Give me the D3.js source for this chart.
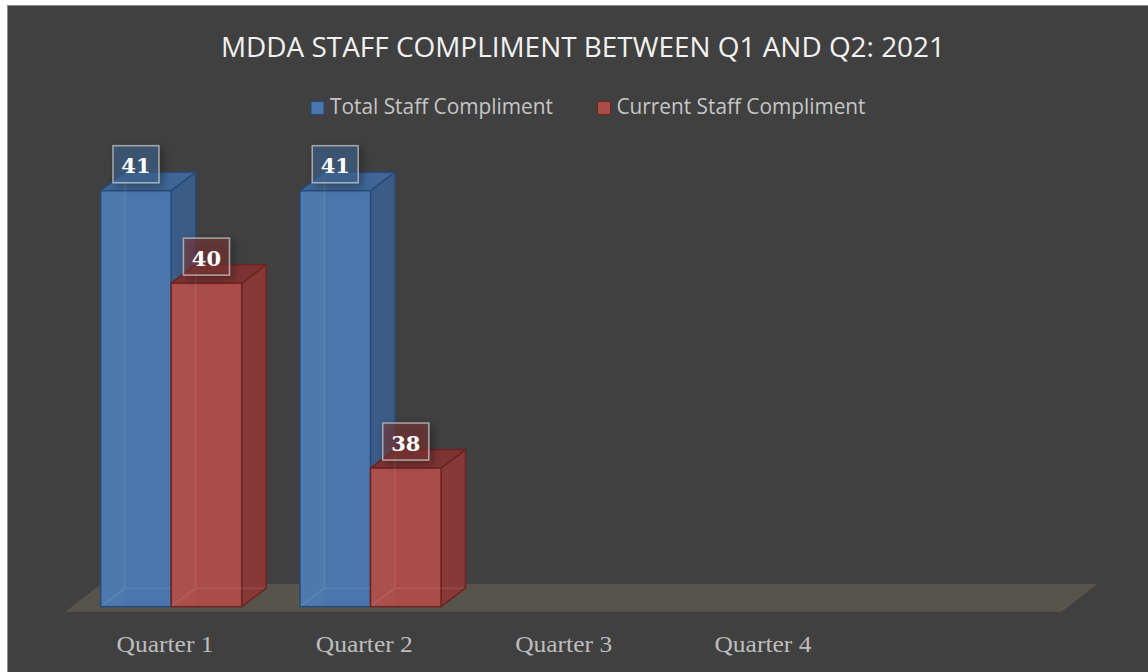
<!DOCTYPE html>
<html>
<head>
<meta charset="utf-8">
<script src="https://cdn.jsdelivr.net/npm/d3@7"></script>
<style>
  html, body { margin: 0; padding: 0; background: #fff; }
  svg { display: block; }
</style>
</head>
<body>
<svg id="chart"></svg>
<script>
const categories = ["Quarter 1", "Quarter 2", "Quarter 3", "Quarter 4"];
const seriesNames = ["Total Staff Compliment", "Current Staff Compliment"];
const totalStaff = [41, 41, null, null];
const currentStaff = [40, 38, null, null];
const titleText = "MDDA STAFF COMPLIMENT BETWEEN Q1 AND Q2: 2021";

function makeChart() {
	let w = 1148;
	let h = 672;

	let svg = d3.select('#chart')
		.attr('width', w)
		.attr('height', h);

	let defs = svg.append('defs');
	let shadow = defs.append('filter').attr('id', 'shadow')
		.attr('x', '-50%').attr('y', '-50%').attr('width', '200%').attr('height', '200%');
	shadow.append('feDropShadow')
		.attr('dx', 3).attr('dy', 3).attr('stdDeviation', 4)
		.attr('flood-color', '#000').attr('flood-opacity', 0.55);

	// chart area
	svg.append('rect')
		.attr('x', 7.5).attr('y', 5.5)
		.attr('width', w + 20).attr('height', h + 20)
		.attr('fill', '#404040')
		.attr('stroke', '#8e8e8e');

	var colors = [
		{ front: '#4a76ad', side: '#3b5c87', top: '#3f6696', stroke: '#284a76' },
		{ front: '#ab4c48', side: '#873937', top: '#7c3433', stroke: '#6a2422' }
	];

	// title
	svg.append('text')
		.attr('x', 583).attr('y', 56.7)
		.attr('text-anchor', 'middle')
		.attr('textLength', 724).attr('lengthAdjust', 'spacingAndGlyphs')
		.style('font-family', '"Open Sans", sans-serif')
		.style('font-size', '28px')
		.attr('fill', '#f2f2f2')
		.text(titleText);

	// legend
	let legendX = [311, 597.5];
	let legendW = [223, 249];
	let legend = svg.selectAll('.legend')
		.data(seriesNames)
		.enter().append('g')
		.attr('class', 'legend')
		.attr('transform', (d, i) => `translate(${legendX[i]}, 101.5)`);
	legend.append('rect')
		.attr('width', 13).attr('height', 13)
		.attr('fill', (d, i) => colors[i].front)
		.attr('stroke', (d, i) => colors[i].stroke);
	legend.append('text')
		.attr('x', 19).attr('y', 12.5)
		.attr('textLength', (d, i) => legendW[i]).attr('lengthAdjust', 'spacingAndGlyphs')
		.style('font-family', '"Open Sans", sans-serif')
		.style('font-size', '21px')
		.attr('fill', '#c6c6c6')
		.text(d => d);

	// scales
	var x = d3.scaleBand()
		.domain(categories)
		.range([65.4, 65.4 + 4 * 199.3]);

	var y = d3.scaleLinear()
		.domain([36.5, 41])
		.range([606.7, 190.7]);

	let dx = 24.5, dy = 18.5;
	let barW = 70.5;
	let groupOffset = 35.3;

	// floor
	let floorFront = 611.7, floorBack = 584, floorRight = 1061.7;
	let fdx = (floorFront - floorBack) * 1.285;
	svg.append('path')
		.attr('d', `M${x.range()[0]},${floorFront} L${floorRight},${floorFront} L${floorRight + fdx},${floorBack} L${x.range()[0] + fdx},${floorBack} Z`)
		.attr('fill', '#57544b');

	// bars
	let barData = [];
	categories.forEach((c, ci) => {
		[totalStaff, currentStaff].forEach((s, si) => {
			if (s[ci] != null) barData.push({ cat: c, series: si, value: s[ci] });
		});
	});

	let bars = svg.selectAll('.bar')
		.data(barData)
		.enter().append('g')
		.attr('class', 'bar');

	bars.each(function (d) {
		let g = d3.select(this);
		let c = colors[d.series];
		let x0 = x(d.cat) + groupOffset + d.series * barW;
		let x1 = x0 + barW;
		let yt = y(d.value);
		let yb = y.range()[0];

		// side face
		g.append('path')
			.attr('d', `M${x1},${yt} L${x1 + dx},${yt - dy} L${x1 + dx},${yb - dy} L${x1},${yb} Z`)
			.attr('fill', c.side).attr('stroke', c.stroke).attr('stroke-width', 1.5)
			.attr('stroke-linejoin', 'round');
		// top face
		g.append('path')
			.attr('d', `M${x0},${yt} L${x0 + dx},${yt - dy} L${x1 + dx},${yt - dy} L${x1},${yt} Z`)
			.attr('fill', c.top).attr('stroke', c.stroke).attr('stroke-width', 1.5)
			.attr('stroke-linejoin', 'round');
		// front face
		g.append('rect')
			.attr('x', x0).attr('y', yt)
			.attr('width', barW).attr('height', yb - yt)
			.attr('fill', c.front).attr('stroke', c.stroke).attr('stroke-width', 1.5);
		// hidden edges seen through
		g.append('path')
			.attr('d', `M${x0 + dx},${yt - dy + 1} L${x0 + dx},${yb - dy} L${x1 + dx - 1},${yb - dy} M${x0 + 1},${yb - 1} L${x0 + dx},${yb - dy}`)
			.attr('fill', 'none')
			.attr('stroke', '#ffffff').attr('stroke-opacity', 0.09).attr('stroke-width', 1.5);
		g.append('rect')
			.attr('x', x0 + 1).attr('y', yt + 1)
			.attr('width', dx - 1).attr('height', yb - yt - 2)
			.attr('fill', '#ffffff').attr('fill-opacity', 0.025);
	});

	// data labels
	let labels = svg.selectAll('.dlabel')
		.data(barData)
		.enter().append('g')
		.attr('class', 'dlabel')
		.attr('transform', d => {
			let cx = x(d.cat) + groupOffset + d.series * barW + barW / 2;
			return `translate(${cx}, ${y(d.value) - 8})`;
		});
	labels.append('rect')
		.attr('x', -23).attr('y', -37)
		.attr('width', 46).attr('height', 37)
		.attr('fill', d => colors[d.series].top)
		.attr('fill-opacity', 0.55)
		.attr('stroke', '#c4c4c4').attr('stroke-opacity', 0.75).attr('stroke-width', 1.5)
		.attr('filter', 'url(#shadow)');
	labels.append('text')
		.attr('x', 0).attr('y', -9.5)
		.attr('text-anchor', 'middle')
		.style('font-family', '"DejaVu Serif", serif')
		.style('font-weight', 'bold')
		.style('font-size', '21px')
		.attr('fill', '#ffffff')
		.text(d => d.value);

	// category labels
	svg.selectAll('.xlabel')
		.data(categories)
		.enter().append('text')
		.attr('class', 'xlabel')
		.attr('x', d => x(d) + x.bandwidth() / 2)
		.attr('y', 651.7)
		.attr('text-anchor', 'middle')
		.attr('textLength', 97).attr('lengthAdjust', 'spacingAndGlyphs')
		.style('font-family', '"Liberation Serif", serif')
		.style('font-size', '24px')
		.attr('fill', '#bdbdbd')
		.text(d => d);
}

window.onload = function () {
	makeChart();
}
</script>
</body>
</html>
